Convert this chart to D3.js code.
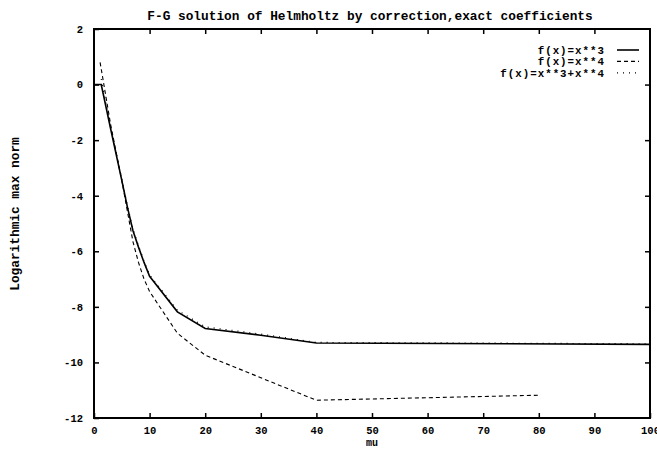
<!DOCTYPE html>
<html>
<head>
<meta charset="utf-8">
<script src="https://cdn.jsdelivr.net/npm/d3@7"></script>
<style>
    body { margin: 0; background: #ffffff; }
    text { font-family: "Liberation Mono", "DejaVu Sans Mono", monospace; fill: #000000; }
</style>
</head>
<body>
<div id="chart"></div>
<script>
// values
const muCubic = [0.2, 1.3, 3, 5, 6, 7, 8, 9, 10, 15, 20, 30, 40, 100];
const normCubic = [0, 0, -1.6, -3.45, -4.4, -5.25, -5.85, -6.4, -6.9, -8.18, -8.78, -9.02, -9.3, -9.35];

const muQuartic = [1.1, 3, 5, 6, 7, 8, 9, 10, 15, 20, 30, 40, 80];
const normQuartic = [0.8, -1.45, -3.45, -4.55, -5.65, -6.4, -7.0, -7.45, -8.95, -9.74, -10.55, -11.36, -11.18];

const muMixed = [1.3, 3, 5, 6, 7, 8, 9, 10, 15, 20, 30, 40, 100];
const normMixed = [0.2, -1.55, -3.4, -4.35, -5.2, -5.8, -6.35, -6.85, -8.12, -8.72, -8.98, -9.28, -9.33];

const seriesNames = ["f(x)=x**3", "f(x)=x**4", "f(x)=x**3+x**4"];
const seriesDash = [null, "4,3", "1,5"];
const seriesWidth = [1.6, 1.1, 1.2];

const xTicks = [0, 10, 20, 30, 40, 50, 60, 70, 80, 90, 100];
const yTicks = [2, 0, -2, -4, -6, -8, -10, -12];

(function (d3) {
    "use strict";

    const width = 657;
    const height = 450;
    const margin = {top: 29, right: 7, bottom: 32, left: 94};

    const svg = d3.select("#chart")
        .append("svg")
            .attr("width", width)
            .attr("height", height);

    const x = d3.scaleLinear().domain([0, 100]).range([margin.left, width - margin.right]);
    const y = d3.scaleLinear().domain([-12, 2]).range([height - margin.bottom, margin.top]);

    const series = [
        muCubic.map((m, i) => [m, normCubic[i]]),
        muQuartic.map((m, i) => [m, normQuartic[i]]),
        muMixed.map((m, i) => [m, normMixed[i]])
    ];

    const line = d3.line().x(d => x(d[0])).y(d => y(d[1]));

    // axes: ticks inward on all four sides
    const tickFont = g => g.selectAll("text")
        .style("font-size", "10.5px")
        .style("font-weight", "bold");

    svg.append("g")
        .attr("transform", `translate(0,${y(-12)})`)
        .call(d3.axisBottom(x).tickValues(xTicks).tickSizeInner(-5).tickSizeOuter(0).tickPadding(9)
            .tickFormat(d => String(d)))
        .call(g => g.select(".domain").remove())
        .call(tickFont);

    svg.append("g")
        .attr("transform", `translate(${x(0)},0)`)
        .call(d3.axisLeft(y).tickValues(yTicks).tickSizeInner(-5).tickSizeOuter(0).tickPadding(11)
            .tickFormat(d => String(d)))
        .call(g => g.select(".domain").remove())
        .call(tickFont);

    svg.append("g")
        .attr("transform", `translate(0,${y(2)})`)
        .call(d3.axisTop(x).tickValues(xTicks.slice(1, -1)).tickSizeInner(-5).tickSizeOuter(0).tickFormat(""))
        .call(g => g.select(".domain").remove());

    svg.append("g")
        .attr("transform", `translate(${x(100)},0)`)
        .call(d3.axisRight(y).tickValues(yTicks.slice(1, -1)).tickSizeInner(-5).tickSizeOuter(0).tickFormat(""))
        .call(g => g.select(".domain").remove());

    svg.selectAll(".tick line").attr("stroke", "#000").attr("stroke-width", 1.5);

    svg.append("rect")
        .attr("x", x(0))
        .attr("y", y(2))
        .attr("width", x(100) - x(0))
        .attr("height", y(-12) - y(2))
        .attr("fill", "none")
        .attr("stroke", "#000")
        .attr("stroke-width", 2);

    // curves
    svg.append("g")
        .selectAll("path")
        .data(series)
        .enter()
        .append("path")
            .attr("d", d => line(d))
            .attr("fill", "none")
            .attr("stroke", "#000")
            .attr("stroke-width", (d, i) => seriesWidth[i])
            .attr("stroke-dasharray", (d, i) => seriesDash[i]);

    // legend
    const legend = svg.append("g")
        .selectAll("g")
        .data(seriesNames)
        .enter()
        .append("g")
            .attr("transform", (d, i) => `translate(605,${50 + i * 11.4})`);

    legend.append("text")
        .attr("text-anchor", "end")
        .attr("dy", "0.35em")
        .style("font-size", "10.8px")
        .style("font-weight", "bold")
        .style("letter-spacing", "1px")
        .text(d => d);

    legend.append("line")
        .attr("x1", 12)
        .attr("x2", 34)
        .attr("stroke", "#000")
        .attr("stroke-width", (d, i) => seriesWidth[i])
        .attr("stroke-dasharray", (d, i) => seriesDash[i]);

    // titles
    svg.append("text")
        .attr("x", 370)
        .attr("y", 20)
        .attr("text-anchor", "middle")
        .style("font-size", "12.8px")
        .style("font-weight", "bold")
        .text("F-G solution of Helmholtz by correction,exact coefficients");

    svg.append("text")
        .attr("x", x(50))
        .attr("y", 446)
        .attr("text-anchor", "middle")
        .style("font-size", "10px")
        .style("font-weight", "bold")
        .text("mu");

    svg.append("text")
        .attr("transform", "translate(19,214) rotate(-90)")
        .attr("text-anchor", "middle")
        .style("font-size", "12.8px")
        .style("font-weight", "bold")
        .text("Logarithmic max norm");
})(d3);
</script>
</body>
</html>
